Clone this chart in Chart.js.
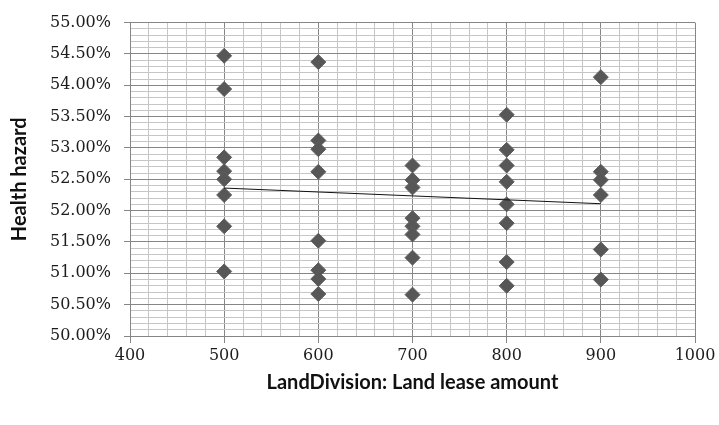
<!DOCTYPE html>
<html>
<head>
<meta charset="utf-8">
<script src="https://cdn.jsdelivr.net/npm/chart.js@4/dist/chart.umd.min.js"></script>
<style>
  html, body { margin: 0; padding: 0; background: #fff; }
  #wrap { width: 719px; height: 425px; }
</style>
</head>
<body>
<div id="wrap"><canvas id="myChart" width="719" height="425"></canvas></div>
<script>
// land lease amount for each column of points
var leaseAmounts = [500, 600, 700, 800, 900];
// health hazard (%), one list per lease amount
var hazard500 = [54.47, 53.94, 52.85, 52.63, 52.50, 52.25, 51.75, 51.03];
var hazard600 = [54.37, 53.12, 52.98, 52.62, 51.52, 51.05, 50.91, 50.67];
var hazard700 = [52.72, 52.49, 52.37, 51.88, 51.75, 51.62, 51.25, 50.66];
var hazard800 = [53.53, 52.97, 52.72, 52.46, 52.10, 51.80, 51.18, 50.80];
var hazard900 = [54.13, 52.62, 52.49, 52.25, 51.38, 50.90];
// linear trend line ends
var trendX = [500, 900];
var trendY = [52.36, 52.11];

var hazardLists = [hazard500, hazard600, hazard700, hazard800, hazard900];
var points = [];
hazardLists.forEach(function(list, i) {
    list.forEach(function(v) {
        points.push({x: leaseAmounts[i], y: v});
    });
});
var trend = trendX.map(function(x, i) { return {x: x, y: trendY[i]}; });

function isMajorY(v) { return Math.abs(v * 2 - Math.round(v * 2)) < 1e-6; }
function isMajorX(v) { return Math.abs(v / 100 - Math.round(v / 100)) < 1e-6; }

var majorGrid = '#868686';
var minorGrid = '#c6c6c6';

var ctx = document.getElementById('myChart').getContext('2d');
var chart = new Chart(ctx, {
    type: 'scatter',
    data: {
        datasets: [{
            type: 'line',
            data: trend,
            borderColor: '#111',
            borderWidth: 1,
            pointRadius: 0,
            fill: false,
            order: 0
        }, {
            data: points,
            pointStyle: 'rectRot',
            pointRadius: 7.5,
            pointHoverRadius: 7.5,
            backgroundColor: '#575757',
            borderColor: '#5e5e5e',
            borderWidth: 1,
            order: 1
        }]
    },
    options: {
        responsive: false,
        animation: false,
        events: [],
        layout: { padding: { top: 18, right: 24, left: 0, bottom: 0 } },
        plugins: { legend: { display: false }, tooltip: { enabled: false } },
        scales: {
            x: {
                type: 'linear',
                min: 400,
                max: 1000,
                afterFit: function(scale) { scale.height = 89; },
                ticks: {
                    stepSize: 20,
                    autoSkip: false,
                    maxRotation: 0,
                    padding: 3,
                    color: '#1c1c1c',
                    font: { family: 'DejaVu Serif', size: 16 },
                    callback: function(v) { return isMajorX(v) ? String(Math.round(v)) : ''; }
                },
                grid: {
                    color: function(c) { return isMajorX(c.tick.value) ? majorGrid : minorGrid; },
                    tickColor: function(c) { return isMajorX(c.tick.value) ? majorGrid : 'rgba(0,0,0,0)'; },
                    tickLength: 7,
                    lineWidth: 1
                },
                border: { display: true, color: majorGrid },
                title: {
                    display: true,
                    text: 'LandDivision: Land lease amount',
                    color: '#111',
                    font: { family: 'Lato', size: 20, weight: 'bold' },
                    padding: { top: 0, bottom: 30 }
                }
            },
            y: {
                type: 'linear',
                min: 50,
                max: 55,
                afterFit: function(scale) { scale.width = 130; },
                ticks: {
                    stepSize: 0.1,
                    autoSkip: false,
                    padding: 13,
                    color: '#1c1c1c',
                    font: { family: 'DejaVu Serif', size: 16 },
                    callback: function(v) { return isMajorY(v) ? v.toFixed(2) + '%' : ''; }
                },
                grid: {
                    color: function(c) { return isMajorY(c.tick.value) ? majorGrid : minorGrid; },
                    tickColor: function(c) { return isMajorY(c.tick.value) ? majorGrid : 'rgba(0,0,0,0)'; },
                    tickLength: 6,
                    lineWidth: 1
                },
                border: { display: true, color: majorGrid },
                title: {
                    display: true,
                    text: 'Health hazard',
                    color: '#111',
                    font: { family: 'Lato', size: 20, weight: 'bold' },
                    padding: { top: 8, bottom: 0 }
                }
            }
        }
    }
});
</script>
</body>
</html>
